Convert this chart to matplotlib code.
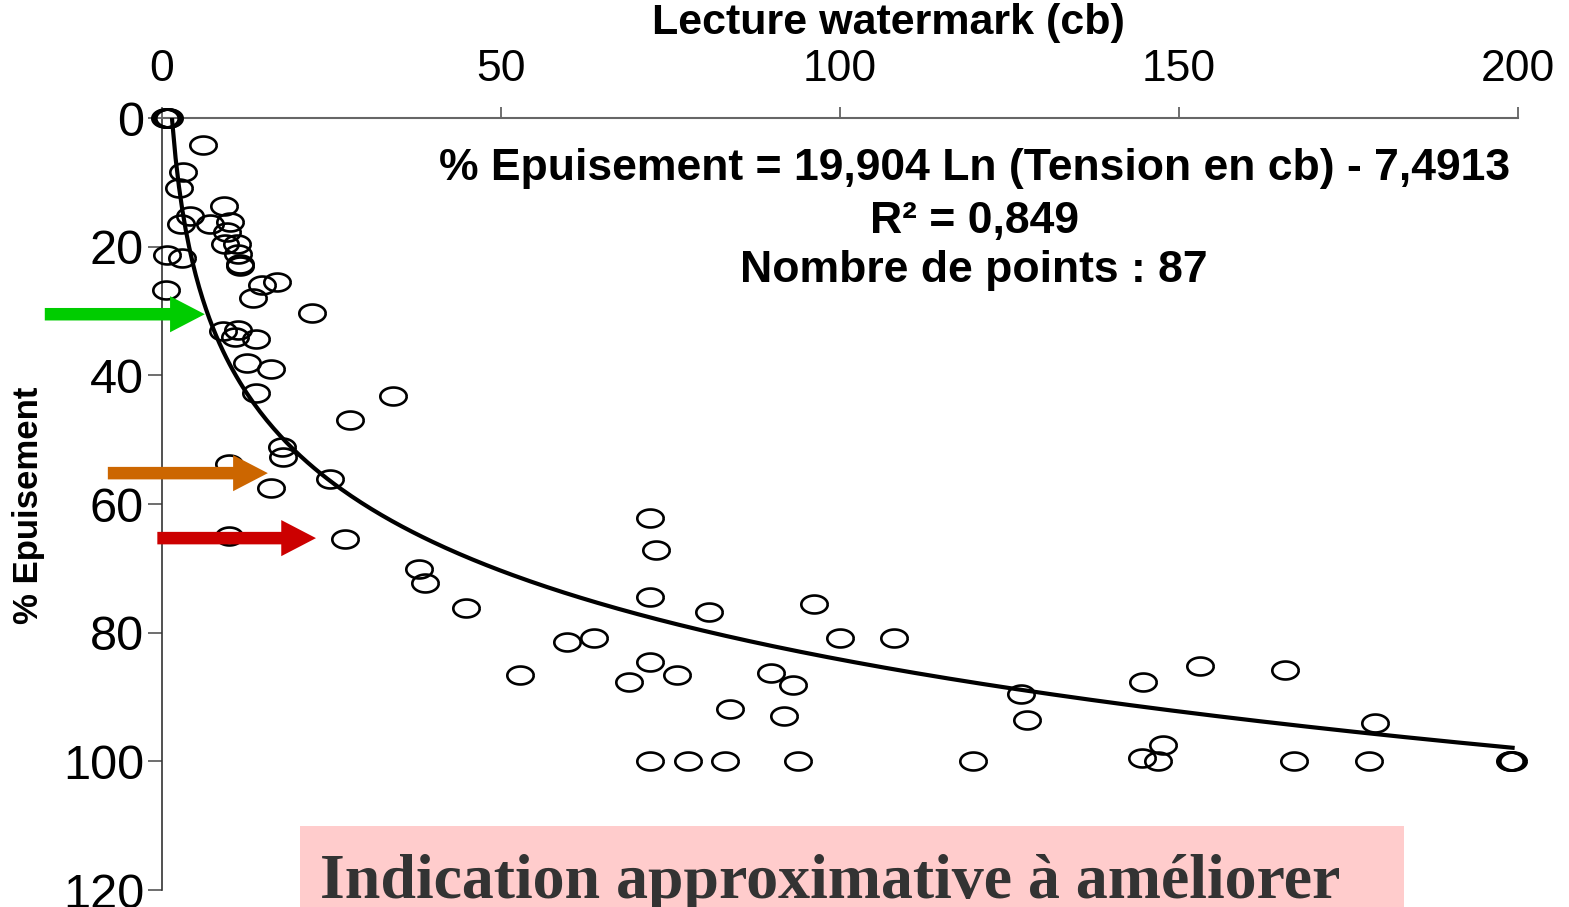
import numpy as np
import matplotlib
matplotlib.use("Agg")
import matplotlib.pyplot as plt
from matplotlib.path import Path
from matplotlib.patches import Rectangle

plt.rcParams['font.family'] = ['Liberation Sans', 'DejaVu Sans']

# lecture watermark (cb) et % epuisement
wat = [0.5, 0.6, 1.0, 0.7, 0.8, 0.9,
       6.0, 3.1, 2.5, 4.1, 2.8, 7.1, 9.1, 10.0, 9.6, 11.1, 9.3, 11.2, 11.5, 11.5,
       0.7, 2.9, 0.6, 14.7, 17.0, 13.4, 22.1, 9.0, 11.2, 10.8, 13.9, 12.5, 16.1,
       13.9, 34.1, 27.7, 17.7, 17.8, 9.9, 24.8, 16.1, 9.9, 27.0, 37.9, 38.8, 44.8,
       72.0, 72.9, 72.0, 80.7, 96.2, 59.7, 63.7, 100.0, 108.0, 52.8, 68.9, 72.0,
       76.0, 89.8, 93.1, 83.8, 91.7, 72.0, 77.6, 83.0, 93.8, 119.6, 126.7, 127.6,
       144.7, 153.1, 165.6, 144.5, 147.6, 146.9, 167.0, 178.0, 178.9,
       199.0, 199.0, 199.2, 198.8]
epu = [0.0, 0.0, 0.0, 0.0, 0.0, 0.0,
       4.2, 8.4, 10.9, 15.2, 16.5, 16.5, 13.7, 16.2, 17.7, 19.6, 19.6, 21.2, 22.7, 23.0,
       21.3, 21.8, 26.7, 26.0, 25.5, 28.0, 30.3, 33.1, 33.0, 34.1, 34.4, 38.1, 39.0,
       42.8, 43.2, 47.0, 51.2, 52.7, 53.8, 56.1, 57.5, 64.9, 65.5, 70.1, 72.2, 76.2,
       62.1, 67.2, 74.5, 76.8, 75.6, 81.5, 80.9, 80.9, 80.9, 86.6, 87.6, 84.6,
       86.6, 86.2, 88.2, 91.9, 93.0, 100, 100, 100, 100, 100, 89.6, 93.6,
       87.7, 85.2, 85.8, 99.4, 97.4, 100, 100, 100, 94.0,
       100, 100, 100, 100]

# tendance logarithmique
coef_a = 19.904
coef_b = -7.4913
r2 = 0.849
nb_points = 87

xticks = [0, 50, 100, 150, 200]
yticks = [0, 20, 40, 60, 80, 100, 120]

# fleches : (x queue, x pointe, y, couleur)
fleches = [(-17.3, 6.3, 30.5, "#00CC00"),
           (-8.0, 15.6, 55.2, "#CC6600"),
           (-0.7, 22.7, 65.3, "#CC0000")]


def virgule(v):
    return f"{v}".replace(".", ",")


fig = plt.figure(figsize=(15.69, 9.07), dpi=100)
ax = fig.add_axes([0.1033, 0.0187, 0.8642, 0.8512])

t = np.linspace(0, 2 * np.pi, 60)
ellipse = Path(np.column_stack([np.cos(t), 0.68 * np.sin(t)]))

ax.plot(wat, epu, linestyle="none", marker=ellipse, markersize=19,
        markerfacecolor="none", markeredgecolor="black", markeredgewidth=1.9,
        zorder=3, clip_on=False)

xs = np.linspace(0.5, max(wat), 400)
ax.plot(xs, coef_a * np.log(xs) + coef_b, color="black", lw=3, zorder=4)

ax.set_xlim(0, 200)
ax.set_ylim(120, 0)
ax.xaxis.tick_top()
ax.xaxis.set_label_position("top")
ax.set_xticks(xticks)
ax.set_yticks(yticks)
ax.tick_params(axis="x", direction="out", length=8, width=1.2, color="#555555",
               labelsize=32, pad=12)
ax.tick_params(axis="y", direction="out", length=10, width=1.2, color="#555555",
               labelsize=35, pad=3)
for s in ["right", "bottom"]:
    ax.spines[s].set_visible(False)
ax.spines["top"].set_color("#666666")
ax.spines["top"].set_linewidth(1.5)
ax.spines["left"].set_color("#333333")
ax.spines["left"].set_linewidth(1.2)

fig.text(0.566, 0.975, "Lecture watermark (cb)", fontsize=31, fontweight="bold",
         ha="center", va="center")
fig.text(0.018, 0.443, "% Epuisement", fontsize=25, fontweight="bold",
         rotation=90, ha="center", va="center")

equation = "% Epuisement = " + virgule(coef_a) + " Ln (Tension en cb) - " + virgule(-coef_b)
ax.text(0.599, 0.934, equation, transform=ax.transAxes, fontsize=32, fontweight="bold",
        ha="center", va="center")
ax.text(0.599, 0.866, "R² = " + virgule(r2), transform=ax.transAxes,
        fontsize=32, fontweight="bold", ha="center", va="center")
ax.text(0.599, 0.803, "Nombre de points : " + str(nb_points), transform=ax.transAxes,
        fontsize=32, fontweight="bold", ha="center", va="center")

for x0, x1, y, c in fleches:
    an = ax.annotate("", xy=(x1, y), xytext=(x0, y), annotation_clip=False,
                     arrowprops=dict(width=9, headwidth=26, headlength=25, shrink=0,
                                     color=c, lw=0))
    an.arrow_patch.set_clip_on(False)
    an.arrow_patch.set_zorder(5)

fig.add_artist(Rectangle((0.1912, -0.01), 0.7036, 0.0993, transform=fig.transFigure,
                         facecolor="#FFCCCC", edgecolor="none", zorder=6))
fig.text(0.204, 0.010, "Indication approximative à améliorer", family="Liberation Serif",
         fontsize=46, fontweight="bold", color="#333333", ha="left", va="baseline", zorder=7)

fig.savefig("out.png", dpi=100)
